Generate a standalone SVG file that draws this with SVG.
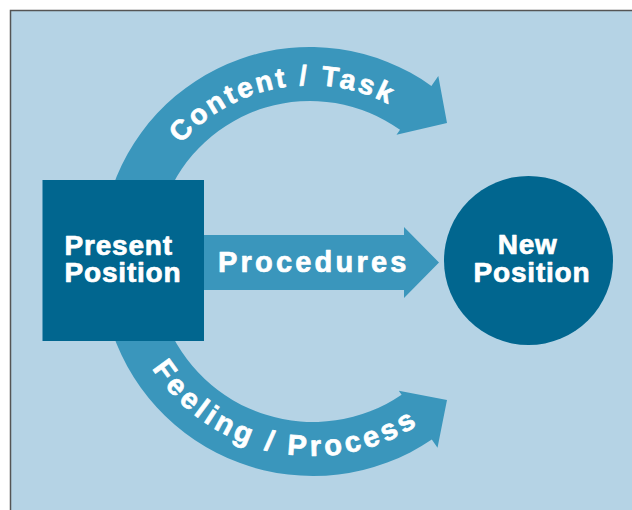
<svg xmlns="http://www.w3.org/2000/svg" width="632" height="510" viewBox="0 0 632 510">
  <style>
    .arrow { fill: #3a96bc; }
    .node { fill: #01668f; }
    .lbl { font-family: "Liberation Sans", Arial, sans-serif; font-weight: bold; fill: #ffffff; stroke: #ffffff; stroke-width: 0.7; stroke-linejoin: round; }
  </style>
  <defs>
    <path id="topPath" d="M148.8,198.9 A171,171 0 0 1 440.0,145.0"/>
    <path id="botPath" d="M130.9,324.9 A192,192 0 0 0 456.8,391.2"/>
  </defs>
  <rect x="10.5" y="10.5" width="640" height="520" fill="#b5d3e5" stroke="#555555" stroke-width="1.5"/>

  <g id="connectors">
    <g id="content-task">
      <path class="arrow" d="M108.6,200 A209,209 0 0 1 431.4,85.9 L438.3,76.1 L447,123 L396.5,134.7 L400.0,129.8 A155,155 0 0 0 165.5,200 Z"/>
      <text class="lbl" font-size="28" letter-spacing="2.8" text-anchor="middle"><textPath href="#topPath" startOffset="50%">Content / Task</textPath></text>
    </g>
    <g id="procedures">
      <polygon class="arrow" points="200,235 404,235 404,227 439,262.5 404,298 404,290 200,290"/>
      <text class="lbl" x="218" y="272" font-size="29" letter-spacing="3.2">Procedures</text>
    </g>
    <g id="feeling-process">
      <path class="arrow" d="M108.5,320 A212,212 0 0 0 431.8,439.6 L437.5,447.8 L447,400 L398.8,390.7 L401.6,394.8 A158,158 0 0 1 165.3,320 Z"/>
      <text class="lbl" font-size="29" letter-spacing="3.9" text-anchor="middle"><textPath href="#botPath" startOffset="50%">Feeling / Process</textPath></text>
    </g>
  </g>

  <g id="present-position">
    <rect class="node" x="42.5" y="180" width="161.5" height="161"/>
    <text class="lbl" font-size="28" letter-spacing="0.8" text-anchor="middle">
      <tspan x="123" y="255">Present</tspan>
      <tspan x="123" y="282">Position</tspan>
    </text>
  </g>

  <g id="new-position">
    <circle class="node" cx="528.5" cy="260.5" r="84.5"/>
    <text class="lbl" font-size="28" letter-spacing="0.8" text-anchor="middle">
      <tspan x="532" y="254">New</tspan>
      <tspan x="532" y="282">Position</tspan>
    </text>
  </g>
</svg>
